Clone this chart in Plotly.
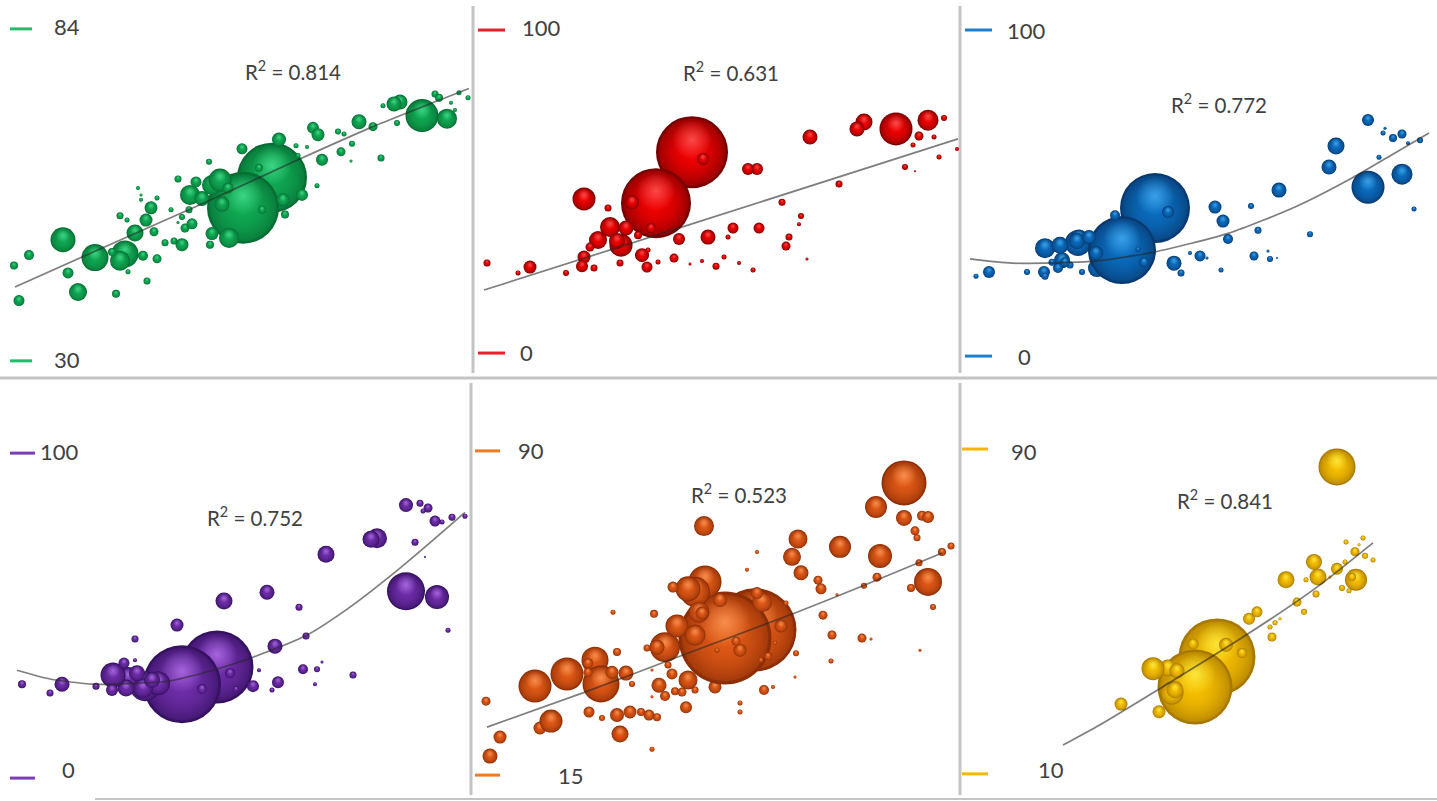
import plotly.graph_objects as go

# Each bubble: horizontal reading (unlabelled axis), value, bubble diameter
green_x = [272,243,229,212,210,63,95,125,120,143,128,157,147,112,135,146,154,151,120,127,157,141,141,138,171,165,174,182,185,192,182,178,189,178,209,190,202,196,212,220,228,222,242,279,296,307,298,313,318,322,317,302,283,285,259,262,341,351,338,344,352,359,373,381,397,383,400,394,422,447,451,455,435,439,459,468,19,14,29,68,78,116]
green_y = [59.8,54.9,50.0,50.7,48.9,49.7,46.8,47.4,46.3,47.1,44.5,46.6,43.0,47.7,50.8,52.9,51.0,54.9,53.6,52.9,56.5,56.2,57.0,58.1,54.6,49.2,49.5,48.9,51.6,52.3,53.4,52.5,54.6,59.6,62.4,57.0,56.4,59.1,58.6,59.4,58.1,55.5,64.5,66.0,65.0,64.8,63.4,67.9,66.8,62.7,58.5,57.0,56.2,53.8,61.4,54.6,64.0,62.5,67.3,66.9,65.3,68.9,68.1,63.0,68.7,71.5,72.1,71.8,69.9,69.4,72.0,70.8,73.4,72.8,73.6,72.8,39.8,45.5,47.2,44.3,41.2,40.9]
green_d = [70,72,20,13,8,25,27,27,20,10,5,9,7,8,17,13,9,13,7,5,5,4,3,4,5,7,7,13,9,11,6,3,7,7,6,20,15,11,20,23,11,15,11,14,5,4,5,12,13,12,5,12,13,8,8,8,9,3,6,5,6,15,9,7,6,5,15,15,33,20,4,4,7,8,5,5,11,8,10,11,18,8]
green_line_x = [15,100,200,298,373,469]
green_line_y = [42.0,48.2,55.4,62.7,68.1,74.3]
green_ticks = [84,30]

red_x = [217,181,228,157,176,109,133,146,135,151,142,123,115,109,107,119,91,55,43,12,145,163,167,173,172,183,199,204,233,258,253,284,215,227,241,249,264,278,282,273,335,307,326,324,314,311,332,364,389,382,421,453,469,444,459,438,430,440,464,482]
red_y = [62.2,46.4,60.1,46.7,38.7,47.7,44.9,33.4,39.0,38.7,34.7,35.0,32.8,29.7,26.9,26.3,24.8,26.6,24.8,27.9,27.9,36.5,30.3,31.9,26.6,28.2,29.4,35.3,35.9,38.7,35.9,38.7,27.6,28.5,26.9,29.7,27.9,25.7,57.0,57.0,66.9,46.7,42.4,39.9,35.9,33.1,29.1,52.3,71.5,69.4,69.4,72.1,72.8,67.2,66.9,64.4,57.6,56.3,60.7,63.2]
red_d = [72,70,12,14,10,23,7,23,20,15,16,18,9,13,12,7,6,13,5,7,7,8,14,5,11,5,9,12,15,11,5,11,3,4,7,5,4,5,12,12,15,7,6,4,7,9,3,7,17,15,33,21,6,9,5,5,6,2,5,4]
red_line_x = [9,213,483]
red_line_y = [19.5,39.6,66.3]
red_ticks = [100,0]

blue_x = [135,116,100,193,160,206,153,182,176,83,98,117,115,127,134,108,103,96,90,82,83,65,27,14,120,212,219,238,228,245,259,253,261,266,289,296,292,306,308,315,317,348,367,374,406,440,452,406,417,423,421,431,440,446,458]
blue_y = [27.0,34.7,29.4,45.4,32.5,44.2,43.2,28.8,32.8,33.1,34.0,36.2,35.3,36.5,31.6,27.9,28.8,27.0,28.8,25.8,24.5,25.8,25.8,24.5,25.8,28.5,25.5,30.7,31.6,30.1,26.4,45.7,41.4,35.9,46.0,38.6,30.7,32.2,29.8,30.1,50.9,37.4,58.0,64.4,51.8,55.8,45.1,72.4,61.0,69.9,68.4,66.9,68.1,65.3,66.2]
blue_d = [18,26,16,70,68,12,10,10,5,20,17,17,16,14,14,7,10,10,7,12,7,6,12,5,6,15,7,11,4,3,5,13,13,10,6,7,9,3,6,2,15,6,15,17,33,21,5,12,5,3,5,8,9,4,6]
blue_line_x = [8,50,133,192,267,333,390,433,467]
blue_line_y = [29.8,28.5,29.1,31.9,37.7,45.7,54.6,62.3,68.4]
blue_ticks = [100,0]

purple_x = [217,182,145,158,128,230,202,236,143,152,137,126,113,112,124,135,135,177,224,267,326,299,275,306,259,253,272,278,303,317,322,315,353,448,406,437,377,371,415,425,406,420,428,423,435,442,452,465,62,22,50,96]
purple_y = [34.2,28.9,28.3,29.2,30.8,32.3,27.4,27.4,27.7,30.2,32.3,27.7,31.7,27.1,35.4,36.3,42.8,47.1,54.5,57.2,68.9,52.6,40.6,43.7,33.2,28.3,27.1,29.5,33.5,33.5,35.7,28.9,31.7,45.5,57.5,55.7,73.8,73.5,72.6,68.0,84.0,84.6,83.1,82.2,79.1,78.8,80.3,80.6,28.9,28.9,26.2,28.3]
purple_d = [73,78,30,24,22,10,10,6,20,16,16,17,25,12,11,4,7,13,17,15,17,7,15,7,4,12,5,12,10,6,3,4,7,5,38,24,20,17,7,2,14,7,9,5,11,5,7,5,15,8,7,7]
purple_line_x = [17,50,93,167,213,253,307,350,400,433,465]
purple_line_y = [33.2,30.5,28.9,29.8,33.2,37.2,44.0,52.6,64.6,73.2,81.8]
purple_ticks = [100,0]

orange_x = [240,280,250,60,92,120,126,113,113,137,151,157,142,138,179,11,65,76,25,15,114,127,142,155,166,174,182,145,177,211,190,184,200,207,220,213,197,193,177,177,190,182,172,202,220,230,220,213,198,224,229,245,227,265,261,242,287,282,306,300,293,286,311,289,298,265,265,320,321,282,272,323,317,326,343,346,362,348,357,356,365,387,396,389,402,405,401,429,429,447,453,440,442,444,467,476,453,436,458,445]
orange_y = [35.4,48.6,46.7,35.6,38.4,41.6,36.1,40.9,38.8,38.8,38.6,36.1,43.5,52.7,52.3,32.1,25.9,27.5,23.8,19.4,29.6,28.2,28.9,29.6,29.6,28.9,28.4,24.5,21.0,30.7,33.3,35.8,34.4,34.2,34.7,37.0,38.4,40.5,33.1,39.3,44.6,44.6,44.4,49.5,47.4,59.7,57.4,58.1,58.5,52.7,72.6,55.5,52.5,43.9,46.0,43.9,55.0,57.1,49.5,45.6,42.5,41.6,54.8,34.7,35.4,31.7,29.6,37.7,43.2,66.6,62.5,69.6,65.5,61.8,60.1,58.1,56.7,52.0,47.4,41.4,67.8,46.7,46.5,58.8,60.8,65.7,77.0,82.6,74.5,75.0,74.7,71.5,69.9,64.1,66.6,68.0,59.7,58.3,53.9,43.9]
orange_d = [13,83,93,33,33,27,37,10,9,13,15,6,8,5,8,9,13,23,13,15,11,6,14,13,8,11,8,17,5,12,10,15,8,9,7,19,11,7,3,3,30,15,7,23,21,33,30,25,11,21,20,14,13,13,9,5,20,12,13,4,8,5,5,10,4,5,5,3,6,4,4,19,18,15,9,11,3,9,9,5,22,9,3,6,9,24,22,45,16,10,12,9,7,7,8,7,28,8,6,3]
orange_line_x = [12,110,200,320,388,467]
orange_line_y = [26.1,34.2,42.1,52.5,58.8,66.4]
orange_ticks = [90,15]

yellow_x = [255,233,231,264,280,206,191,215,210,213,197,159,287,295,310,308,313,318,324,335,342,354,352,356,344,375,368,383,394,390,380,387,393,384,397,401,403,411,375]
yellow_y = [38.8,31.4,42.0,41.8,39.8,36.1,35.9,35.4,29.9,30.7,25.3,27.2,48.2,49.9,43.7,46.2,47.2,48.2,57.8,52.3,49.9,54.3,62.2,58.5,57.8,60.5,58.5,62.2,57.8,58.5,55.8,55.1,64.7,67.1,66.4,68.1,63.7,62.7,85.6]
yellow_d = [77,75,11,14,10,17,23,15,23,17,13,13,12,11,9,5,5,3,17,9,6,7,16,17,5,12,3,5,22,8,6,5,9,5,3,5,6,5,37]
yellow_line_x = [101,138,281,355,411]
yellow_line_y = [17.1,22.1,43.7,56.0,66.9]
yellow_ticks = [90,10]

r_squared = ["R<sup>2</sup> = 0.814","R<sup>2</sup> = 0.631","R<sup>2</sup> = 0.772",
              "R<sup>2</sup> = 0.752","R<sup>2</sup> = 0.523","R<sup>2</sup> = 0.841"]

W, H = 1437, 801
FONT = "Lato"
TXT = "#404040"

panels = [
 dict(x=green_x,y=green_y,d=green_d,lx=green_line_x,ly=green_line_y,ticks=green_ticks,
      px=(0,473),py=(0,375),yr=(27.7,88.7),rgb=((6,107,51),(15,168,82),(70,225,145)),dash="#1fbe6a",
      dx=(10,32),lab=[(52,84.4),(52,30.3)],r=(293,77.2)),
 dict(x=red_x,y=red_y,d=red_d,lx=red_line_x,ly=red_line_y,ticks=red_ticks,
      px=(475,960),py=(0,375),yr=(-6.8,109.3),rgb=((115,0,0),(240,0,0),(255,90,90)),dash="#e8202a",
      dx=(3,30),lab=[(45,100.9),(43,0.3)],r=(256,87.3)),
 dict(x=blue_x,y=blue_y,d=blue_d,lx=blue_line_x,ly=blue_line_y,ticks=blue_ticks,
      px=(962,1437),py=(0,375),yr=(-5.8,109.2),rgb=((7,56,110),(10,108,190),(70,175,245)),dash="#1c7fd0",
      dx=(3,30),lab=[(43,100),(54,0)],r=(257,77.6)),
 dict(x=purple_x,y=purple_y,d=purple_d,lx=purple_line_x,ly=purple_line_y,ticks=purple_ticks,
      px=(0,473),py=(380,795),yr=(-5.2,122.5),rgb=((52,16,95),(110,45,168),(180,115,235)),dash="#7a3fb5",
      dx=(10,35),lab=[(38,100.6),(60,2.8)],r=(255,80.6)),
 dict(x=orange_x,y=orange_y,d=orange_d,lx=orange_line_x,ly=orange_line_y,ticks=orange_ticks,
      px=(475,960),py=(380,795),yr=(10.4,106.4),rgb=((138,44,5),(222,88,22),(255,155,90)),dash="#ee7a22",
      dx=(-2,25),lab=[(41,90),(81,14.8)],r=(264,80.05)),
 dict(x=yellow_x,y=yellow_y,d=yellow_d,lx=yellow_line_x,ly=yellow_line_y,ticks=yellow_ticks,
      px=(962,1437),py=(380,795),yr=(4.8,107.0),rgb=((165,118,0),(245,190,0),(255,240,70)),dash="#f5b800",
      dx=(0,26),lab=[(47,89.5),(74,11.2)],r=(263,77.5)),
]

def rgba(c, a=1):
    return f"rgba({c[0]},{c[1]},{c[2]},{a})"

fig = go.Figure()
layout = {}
annotations = []
for i, p in enumerate(panels):
    n = "" if i == 0 else str(i + 1)
    xa, ya = f"x{n}", f"y{n}"
    width = p["px"][1] - p["px"][0]
    layout[f"xaxis{n}"] = dict(domain=[p["px"][0]/W, p["px"][1]/W], range=[0, width],
                               visible=False, anchor=ya, fixedrange=True)
    layout[f"yaxis{n}"] = dict(domain=[1-p["py"][1]/H, 1-p["py"][0]/H], range=list(p["yr"]),
                               visible=False, anchor=xa, fixedrange=True)
    units_per_px = (p["yr"][1]-p["yr"][0])/(p["py"][1]-p["py"][0])
    dark, mid, light = p["rgb"]
    xs, ys, sizes, edge, core = [], [], [], [], []
    # each bubble is a stack of three concentric shaded discs, kept together so bubbles overlap correctly
    for bx, by, bd in zip(p["x"], p["y"], p["d"]):
        xs += [bx, bx, bx]
        ys += [by, by, by + 0.17*bd*units_per_px]
        sizes += [bd, 0.93*bd, 0.55*bd]
        edge += [rgba(dark), rgba(mid,0.25), rgba(light,0)]
        core += [rgba(mid), rgba(mid), rgba(light,0.8)]
    fig.add_trace(go.Scatter(x=xs, y=ys, mode="markers", xaxis=xa, yaxis=ya, showlegend=False,
                             cliponaxis=False, hoverinfo="skip",
                             marker=dict(size=sizes, sizemode="diameter", color=edge, opacity=1,
                                         line=dict(width=0),
                                         gradient=dict(type="radial", color=core))))
    fig.add_trace(go.Scatter(x=p["lx"], y=p["ly"], mode="lines", xaxis=xa, yaxis=ya, showlegend=False,
                             cliponaxis=False, hoverinfo="skip",
                             line=dict(color="rgba(40,40,40,0.6)", width=1.7, shape="spline", smoothing=0.6)))
    for t in p["ticks"]:
        fig.add_trace(go.Scatter(x=list(p["dx"]), y=[t, t], mode="lines", xaxis=xa, yaxis=ya,
                                 showlegend=False, cliponaxis=False, hoverinfo="skip",
                                 line=dict(color=p["dash"], width=3)))
    for t, (lx, ly) in zip(p["ticks"], p["lab"]):
        annotations.append(dict(x=lx, y=ly, xref=xa, yref=ya, text=str(t), showarrow=False,
                                xanchor="left", yanchor="middle",
                                font=dict(family=FONT, size=22, color=TXT)))
    annotations.append(dict(x=p["r"][0], y=p["r"][1], xref=xa, yref=ya, text=r_squared[i], showarrow=False,
                            xanchor="center", yanchor="middle",
                            font=dict(family=FONT, size=20.5, color=TXT)))

sep = dict(type="line", xref="paper", yref="paper", line=dict(color="#c4c4c4", width=3), layer="below")
def vline(x, y0, y1):
    return dict(sep, x0=x/W, x1=x/W, y0=1-y0/H, y1=1-y1/H)
def hline(y, x0, x1, w=3):
    s = dict(sep, x0=x0/W, x1=x1/W, y0=1-y/H, y1=1-y/H)
    s["line"] = dict(color="#c4c4c4", width=w)
    return s
shapes = [vline(473,6,373), vline(960,6,373), vline(471,383,795), vline(960,383,795),
          hline(378,0,W), hline(799,95,W,2)]

fig.update_layout(width=W, height=H, margin=dict(l=0,r=0,t=0,b=0), paper_bgcolor="white",
                  plot_bgcolor="white", annotations=annotations, shapes=shapes, autosize=False, **layout)
fig.write_html("out.html", config=dict(displayModeBar=False),
               post_script="document.body.style.margin='0';document.documentElement.style.overflow='hidden';")
